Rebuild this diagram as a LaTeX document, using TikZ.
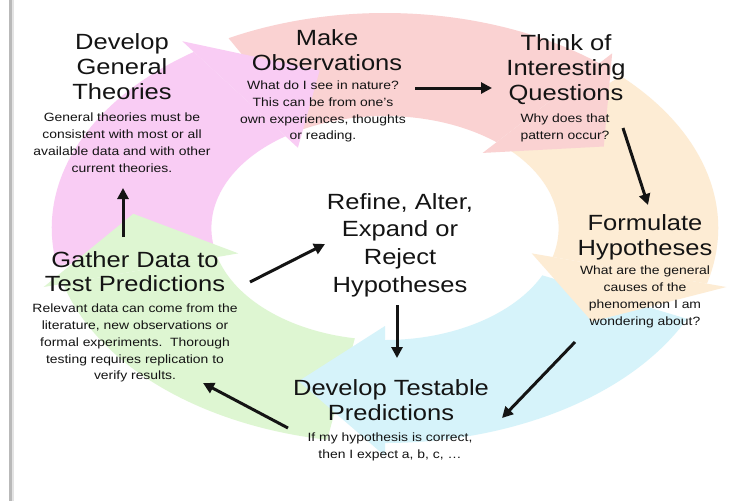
\documentclass[tikz,border=0pt]{standalone}
\usepackage{fontspec}
\setmainfont{Liberation Sans}
\usetikzlibrary{arrows.meta}
\definecolor{cpink}{RGB}{249,204,244}
\definecolor{csalmon}{RGB}{250,210,210}
\definecolor{cpeach}{RGB}{253,236,212}
\definecolor{ccyan}{RGB}{214,243,250}
\definecolor{cgreen}{RGB}{222,246,210}
\definecolor{ink}{RGB}{20,20,20}
\begin{document}
\begin{tikzpicture}[x=1pt,y=-1pt,
  hd/.style={font=\fontsize{22}{25}\selectfont, align=center, inner sep=0pt, anchor=north, xscale=1.16, text=ink},
  bd/.style={font=\fontsize{12}{16.7}\selectfont, align=center, inner sep=0pt, anchor=north, xscale=1.16, text=ink},
  flow/.style={line width=3pt, draw=ink, -{Triangle[length=11pt,width=11pt]}}]
\useasboundingbox (0,0) rectangle (738,501);
\fill[white] (0,0) rectangle (738,501);
% ring of coloured arrows
\begin{scope}[shift={(385,228)}, xscale=1.55, yscale=-1]
  \foreach \col/\sa/\ea in {cpink/190/125, csalmon/118/50, cpeach/45/-15, ccyan/-25/-90, cgreen/260/195}
    \fill[\col] (\sa:215) arc[start angle=\sa, end angle=\ea, radius=215] -- (\ea:112) arc[start angle=\ea, end angle=\sa, radius=112] -- cycle;
  \foreach \col/\ea/\tp in {cpink/125/105, csalmon/50/30, cpeach/-15/-35, ccyan/-90/-110, cgreen/195/175}
    \fill[\col] (\ea:228) -- (\tp:163) -- (\ea:98) -- cycle;
\end{scope}
% left border shadow
\draw[gray!55, line width=2.5pt] (10.5,0) -- (10.5,501);
\draw[gray!22, line width=1.5pt] (12.8,0) -- (12.8,501);
% texts
\node[hd] (devH) at (122,33) {Develop\\General\\Theories};
\node[bd] (devB) at (122,113) {General theories must be\\consistent with most or all\\available data and with other\\current theories.};
\node[hd] (obsH) at (327,29) {Make\\Observations};
\node[bd] (obsB) at (323,81) {What do I see in nature?\\This can be from one's\\own experiences, thoughts\\or reading.};
\node[hd] (qH) at (566,34) {Think of\\Interesting\\Questions};
\node[bd] (qB) at (565,114) {Why does that\\pattern occur?};
\node[hd] (hypH) at (645,214) {Formulate\\Hypotheses};
\node[bd] (hypB) at (645,266) {What are the general\\causes of the\\phenomenon I am\\wondering about?};
\node[hd, font=\fontsize{22}{27.7}\selectfont] (refH) at (400,193) {Refine, Alter,\\Expand or\\Reject\\Hypotheses};
\node[hd] (tstH) at (391,379) {Develop Testable\\Predictions};
\node[bd] (tstB) at (390,433) {If my hypothesis is correct,\\then I expect a, b, c, \ldots};
\node[hd, font=\fontsize{22}{24}\selectfont] (gatH) at (135,251) {Gather Data to\\Test Predictions};
\node[bd] (gatB) at (135,304) {Relevant data can come from the\\literature, new observations or\\formal experiments.\ \ Thorough\\testing requires replication to\\verify results.};
% arrow end points
\coordinate (a1s) at (415,88);  \coordinate (a1e) at (492,88);
\coordinate (a2s) at (623,128); \coordinate (a2e) at (648,205);
\coordinate (a3s) at (575,342); \coordinate (a3e) at (502,418);
\coordinate (a4s) at (397,305); \coordinate (a4e) at (397,358);
\coordinate (a5s) at (288,428); \coordinate (a5e) at (203,383);
\coordinate (a6s) at (250,282); \coordinate (a6e) at (325,244);
\coordinate (a7s) at (123,237); \coordinate (a7e) at (123,188);
\draw[flow] (a1s) -- (a1e);
\draw[flow] (a2s) -- (a2e);
\draw[flow] (a3s) -- (a3e);
\draw[flow] (a4s) -- (a4e);
\draw[flow] (a5s) -- (a5e);
\draw[flow] (a6s) -- (a6e);
\draw[flow] (a7s) -- (a7e);
\end{tikzpicture}
\end{document}
